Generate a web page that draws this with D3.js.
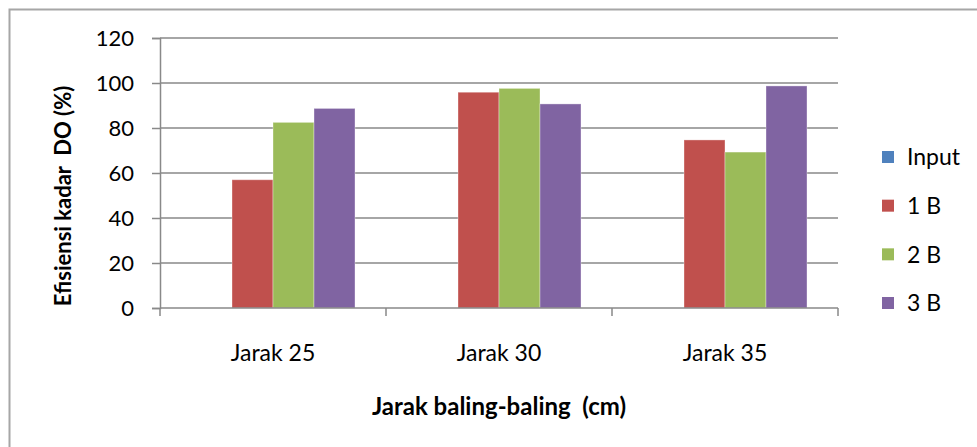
<!DOCTYPE html>
<html>
<head>
<meta charset="utf-8">
<script src="https://cdn.jsdelivr.net/npm/d3@7"></script>
<style>
  html, body { margin: 0; padding: 0; background: #fff; }
  svg { display: block; }
  text { font-family: Lato, "Open Sans", sans-serif; fill: #000; }
</style>
</head>
<body>
<svg id="chart" width="977" height="447"></svg>
<script>
const categories = ["Jarak 25", "Jarak 30", "Jarak 35"];
const seriesNames = ["Input", "1 B", "2 B", "3 B"];
const seriesColors = ["#4F81BD", "#C0504D", "#9BBB59", "#8064A2"];
const valuesInput = [null, null, null];
const values1B = [57, 95.9, 74.7];
const values2B = [82.5, 97.6, 69.3];
const values3B = [88.7, 90.7, 98.7];
const yTicks = [0, 20, 40, 60, 80, 100, 120];
const yTitle = "Efisiensi kadar  DO (%)";
const xTitle = "Jarak baling-baling  (cm)";

const seriesValues = [valuesInput, values1B, values2B, values3B];

const svg = d3.select("#chart");

// outer chart border (only top/left visible in reference)
svg.append("rect")
  .attr("x", 9.5).attr("y", 9.5)
  .attr("width", 1100).attr("height", 600)
  .attr("fill", "none").attr("stroke", "#a6a6a6").attr("stroke-width", 2);

const plot = { left: 160, right: 838, top: 38, bottom: 308 };

const y = d3.scaleLinear().domain([0, 120]).range([plot.bottom, plot.top]);
const x0 = d3.scaleBand().domain(categories).range([plot.left, plot.right]).paddingInner(0).paddingOuter(0);
const x1 = d3.scaleBand().domain(seriesNames).range([0, x0.bandwidth()]).paddingInner(0).paddingOuter(0.756);

// gridlines
svg.append("g").selectAll("line")
  .data(yTicks.filter(t => t !== 0))
  .join("line")
  .attr("x1", plot.left).attr("x2", plot.right)
  .attr("y1", d => y(d)).attr("y2", d => y(d))
  .attr("stroke", "#898989").attr("stroke-width", 1.5);

// bars
const groups = svg.append("g").selectAll("g")
  .data(seriesNames.map((name, i) => ({ name, color: seriesColors[i], vals: seriesValues[i] })))
  .join("g")
  .attr("fill", d => d.color);

groups.selectAll("rect")
  .data(d => d.vals.map((v, j) => ({ name: d.name, cat: categories[j], v })).filter(e => e.v != null))
  .join("rect")
  .attr("x", d => x0(d.cat) + x1(d.name))
  .attr("width", x1.bandwidth())
  .attr("y", d => y(d.v))
  .attr("height", d => y(0) - y(d.v))
  .attr("stroke", "rgba(255,255,255,0.35)")
  .attr("stroke-width", 1);

// y axis
const yAxis = d3.axisLeft(y).tickValues(yTicks).tickSize(8).tickPadding(18);
const gy = svg.append("g").attr("transform", `translate(${plot.left},0)`).call(yAxis);
gy.select(".domain").attr("stroke", "#898989").attr("stroke-width", 1.5);
gy.selectAll(".tick line").attr("stroke", "#898989").attr("stroke-width", 1.5);
gy.selectAll(".tick text")
  .attr("font-family", "Lato, sans-serif").attr("font-size", 22).attr("fill", "#000")
  .attr("dy", "0.36em");

// x axis
const xAxis = d3.axisBottom(x0).tickSize(0).tickPadding(0);
const gx = svg.append("g").attr("transform", `translate(0,${plot.bottom})`).call(xAxis);
gx.select(".domain").attr("stroke", "#898989").attr("stroke-width", 1.5).attr("d", `M${plot.left},0H${plot.right}`);
gx.selectAll(".tick text")
  .attr("font-family", "Lato, sans-serif").attr("font-size", 23).attr("fill", "#000")
  .attr("y", 53).attr("dy", 0);
// category boundary ticks
const boundaries = categories.map(c => x0(c)).concat([x0(categories[categories.length - 1]) + x0.bandwidth()]);
gx.append("g").selectAll("line")
  .data(boundaries)
  .join("line")
  .attr("x1", d => d).attr("x2", d => d)
  .attr("y1", 0).attr("y2", 8)
  .attr("stroke", "#898989").attr("stroke-width", 1.5);

// axis titles
svg.append("text")
  .attr("transform", `translate(71,196) rotate(-90)`)
  .attr("text-anchor", "middle")
  .attr("font-weight", "bold").attr("font-size", 22)
  .style("white-space", "pre")
  .text(yTitle);

svg.append("text")
  .attr("x", 499).attr("y", 415)
  .attr("text-anchor", "middle")
  .attr("font-weight", "bold").attr("font-size", 24)
  .style("white-space", "pre")
  .text(xTitle);

// legend
const legendY = d3.scalePoint().domain(seriesNames).range([157, 303]);
const lg = svg.append("g").selectAll("g")
  .data(seriesNames.map((name, i) => ({ name, color: seriesColors[i] })))
  .join("g")
  .attr("transform", d => `translate(882,${legendY(d.name)})`);
lg.append("rect")
  .attr("x", 0).attr("y", -6).attr("width", 12).attr("height", 12)
  .attr("fill", d => d.color);
lg.append("text")
  .attr("x", 25).attr("y", 0).attr("dy", "0.36em")
  .attr("font-size", 23)
  .text(d => d.name);
</script>
</body>
</html>
